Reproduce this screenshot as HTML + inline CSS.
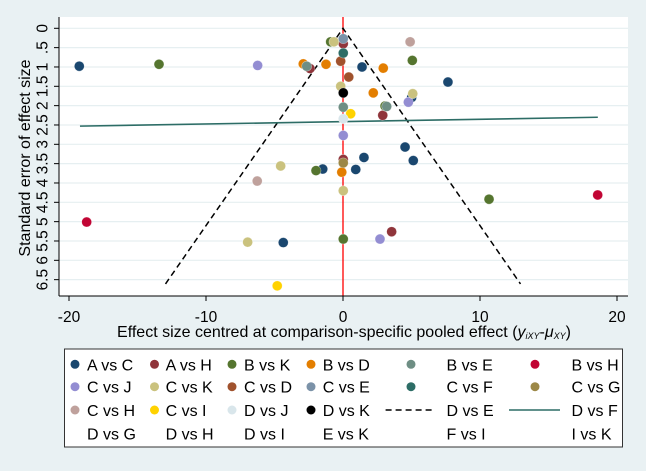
<!DOCTYPE html>
<html><head><meta charset="utf-8">
<style>
html,body{margin:0;padding:0;background:#e9f1f3;}
svg{display:block;font-family:"Liberation Sans",Arial,sans-serif;}
</style></head>
<body>
<svg id="chart" width="646" height="471" viewBox="0 0 646 471" xmlns="http://www.w3.org/2000/svg">
<rect x="0" y="0" width="646" height="471" fill="#e9f1f3"/>
<rect x="59" y="17" width="569" height="279" fill="#ffffff"/>
<g id="grid"></g>
<g id="lines"></g>
<g id="points"></g>
<g id="axes"></g>
<g id="legend"></g>
</svg>
<script>
const NS="http://www.w3.org/2000/svg";
const yTicks=[0,0.5,1,1.5,2,2.5,3,3.5,4,4.5,5,5.5,6,6.5];
const yTickLabels=["0",".5","1","1.5","2","2.5","3","3.5","4","4.5","5","5.5","6","6.5"];
const xTicks=[-20,-10,0,10,20];
const xTickLabels=["-20","-10","0","10","20"];
const funnelMaxSE=6.61;
const regStart=[-19.2,2.53];
const regEnd=[18.6,2.30];
const seriesNames=["A vs C","A vs H","B vs K","B vs D","B vs E","B vs H","C vs J","C vs K","C vs D","C vs E","C vs F","C vs G","C vs H","C vs I","D vs J","D vs K"];
const seriesColors=["#1a476f","#90353b","#55752f","#e37e00","#6e8e84","#c10534","#938dd2","#cac27e","#a0522d","#7b92a8","#2d6d66","#9c8847","#bfa19c","#ffd200","#d9e6eb","#000000"];
const effA_C=[-19.25,1.39,7.66,5.01,4.53,5.13,1.53,0.93,-1.48,-4.36];
const seA_C=[0.98,1.00,1.39,1.79,3.07,3.42,3.34,3.65,3.64,5.54];
const effA_H=[0.02,-2.41,2.90,0.02,3.55];
const seA_H=[0.40,1.04,2.25,3.39,5.26];
const effB_K=[-0.90,-13.43,5.06,3.07,-1.97,10.66,0.02];
const seB_K=[0.35,0.93,0.83,2.01,3.68,4.42,5.45];
const effB_D=[-2.90,-1.24,2.94,2.21,-0.09];
const seB_D=[0.92,0.93,1.03,1.67,3.72];
const effB_E=[-2.65,0.02,3.19];
const seB_E=[0.98,2.04,2.02];
const effB_H=[-18.71,18.59];
const seB_H=[5.01,4.31];
const effC_J=[-6.23,4.77,0.02,2.70];
const seC_J=[0.96,1.91,2.77,5.45];
const effC_K=[-0.66,-0.17,5.09,-4.55,0.02,-6.96];
const seC_K=[0.35,1.50,1.69,3.56,4.20,5.53];
const effC_D=[-0.17,0.42];
const seC_D=[0.85,1.26];
const effC_E=[0.02];
const seC_E=[0.27];
const effC_F=[0.02];
const seC_F=[0.64];
const effC_G=[0.02];
const seC_G=[3.48];
const effC_H=[4.90,-6.26];
const seC_H=[0.35,3.95];
const effC_I=[0.56,-4.80];
const seC_I=[2.21,6.66];
const effD_J=[0.02];
const seD_J=[2.34];
const effD_K=[0.02];
const seD_K=[1.67];
const seriesEff=[effA_C,effA_H,effB_K,effB_D,effB_E,effB_H,effC_J,effC_K,effC_D,effC_E,effC_F,effC_G,effC_H,effC_I,effD_J,effD_K];
const seriesSE=[seA_C,seA_H,seB_K,seB_D,seB_E,seB_H,seC_J,seC_K,seC_D,seC_E,seC_F,seC_G,seC_H,seC_I,seD_J,seD_K];
const legendRow3=["C vs H","C vs I","D vs J","D vs K","D vs E","D vs F"];
const legendRow4=["D vs G","D vs H","D vs I","E vs K","F vs I","I vs K"];

const X=v=>343+v*13.7;
const Y=v=>28.3+v*38.67;
function mk(tag,attrs,parent,text){const e=document.createElementNS(NS,tag);for(const k in attrs)e.setAttribute(k,attrs[k]);if(text!==undefined)e.textContent=text;parent.appendChild(e);return e;}

const grid=document.getElementById('grid');
const axes=document.getElementById('axes');
yTicks.forEach((t,i)=>{
  const g=mk('line',{x1:59,x2:628,y1:Y(t),y2:Y(t),stroke:'#e6eff1','stroke-width':1.2},grid);
  
  
  const tk=mk('line',{x1:54,x2:59,y1:Y(t),y2:Y(t),stroke:'#000','stroke-width':1},axes);
  
  
  const tl=mk('text',{x:0,y:0,transform:`translate(47.5,${Y(t)}) rotate(-90)`,'text-anchor':'middle','font-size':15.5,fill:'#000'},axes,yTickLabels[i]);
  
  
});
xTicks.forEach((t,i)=>{
  const tk=mk('line',{x1:X(t),x2:X(t),y1:296,y2:301,stroke:'#000','stroke-width':1},axes);
  
  
  const tl=mk('text',{x:X(t),y:322,'text-anchor':'middle','font-size':15.5,fill:'#000'},axes,xTickLabels[i]);
  
  
});
let ax=mk('line',{x1:59,x2:59,y1:17,y2:296,stroke:'#000','stroke-width':1},axes);


ax=mk('line',{x1:59,x2:628,y1:296,y2:296,stroke:'#000','stroke-width':1},axes);


const yt=mk('text',{x:0,y:0,transform:'translate(30,158) rotate(-90)','text-anchor':'middle','font-size':16,fill:'#000'},axes,'Standard error of effect size');


const xt=mk('text',{x:344,y:337,'text-anchor':'middle','font-size':16,fill:'#000'},axes);


xt.innerHTML='Effect size centred at comparison-specific pooled effect (<tspan font-style="italic">y</tspan><tspan font-style="italic" font-size="9" dy="2">iXY</tspan><tspan dy="-2">-</tspan><tspan font-style="italic">μ</tspan><tspan font-style="italic" font-size="9" dy="2">XY</tspan><tspan dy="-2">)</tspan>';

const lines=document.getElementById('lines');
const zl=mk('line',{x1:X(0),x2:X(0),y1:17,y2:296,stroke:'#ff0000','stroke-width':1.3},lines);


const fl=mk('polyline',{points:`${X(-1.96*funnelMaxSE)},${Y(funnelMaxSE)} ${X(0)},${Y(0)} ${X(1.96*funnelMaxSE)},${Y(funnelMaxSE)}`,fill:'none',stroke:'#000','stroke-width':1.5,'stroke-dasharray':'6,4'},lines);


const rl=mk('line',{x1:X(regStart[0]),y1:Y(regStart[1]),x2:X(regEnd[0]),y2:Y(regEnd[1]),stroke:'#2d6d66','stroke-width':1.6},lines);



const pts=document.getElementById('points');
seriesEff.forEach((arr,s)=>{
  arr.forEach((v,i)=>{
    const c=mk('circle',{cx:X(v),cy:Y(seriesSE[s][i]),r:5,fill:seriesColors[s],stroke:'rgba(255,255,255,0.5)','stroke-width':0.6},pts);
    
    
  });
});

const lg=document.getElementById('legend');
const box=mk('rect',{x:64.5,y:349,width:558,height:98,fill:'#fff',stroke:'#333','stroke-width':1},lg);


const mx=[75,154.5,232,311,411,535];
const tx=[87,165.6,244,322.7,446.5,571.5];
const rowsY=[364.3,386.7,410,433.3];
const fs=16;
for(let i=0;i<15;i++){
  const r=Math.floor(i/6),c=i%6;
  const m=mk('circle',{cx:mx[c],cy:rowsY[r],r:4.5,fill:seriesColors[i]},lg);
  
  
  const t=mk('text',{x:tx[c],y:rowsY[r]+6,'font-size':fs,fill:'#000'},lg,seriesNames[i]);
  
  
}
const m15=mk('circle',{cx:mx[3],cy:rowsY[2],r:4.5,fill:seriesColors[15]},lg);


legendRow3.forEach((n,c)=>{
  if(c<3)return;
  const t=mk('text',{x:tx[c],y:rowsY[2]+6,'font-size':fs,fill:'#000'},lg,n);
  
  
});
const dl=mk('line',{x1:385.6,x2:434.7,y1:rowsY[2],y2:rowsY[2],stroke:'#000','stroke-width':1.5,'stroke-dasharray':'6,4'},lg);


const sl=mk('line',{x1:509,x2:560,y1:rowsY[2],y2:rowsY[2],stroke:'#2d6d66','stroke-width':1.6},lg);


legendRow4.forEach((n,c)=>{
  const t=mk('text',{x:tx[c],y:rowsY[3]+6,'font-size':fs,fill:'#000'},lg,n);
  
  
});
</script>
</body></html>
